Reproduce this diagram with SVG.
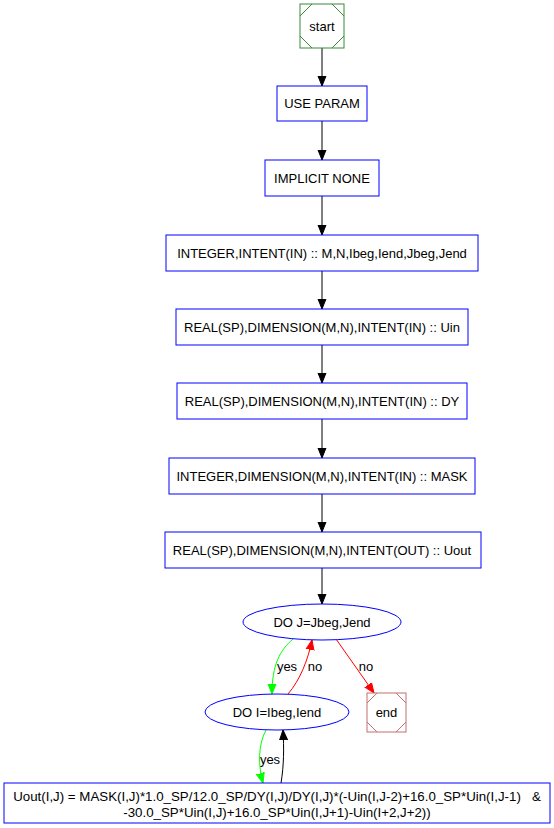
<svg xmlns="http://www.w3.org/2000/svg" width="554" height="828" viewBox="0 0 554 828">
<defs>
<marker id="ab" viewBox="0 0 10 10" refX="10" refY="5" markerWidth="10" markerHeight="10" markerUnits="userSpaceOnUse" orient="auto"><path d="M0,1 L10,5 L0,9 Z" fill="#000" stroke="#000"/></marker>
<marker id="ag" viewBox="0 0 10 10" refX="10" refY="5" markerWidth="10" markerHeight="10" markerUnits="userSpaceOnUse" orient="auto"><path d="M0,1 L10,5 L0,9 Z" fill="#0f0" stroke="#0f0"/></marker>
<marker id="ar" viewBox="0 0 10 10" refX="10" refY="5" markerWidth="10" markerHeight="10" markerUnits="userSpaceOnUse" orient="auto"><path d="M0,1 L10,5 L0,9 Z" fill="#f00" stroke="#f00"/></marker>
</defs>
<style>
text{font-family:"Liberation Sans",Arial,sans-serif;font-size:13px;text-anchor:middle;fill:#000}
.box{fill:#fff;stroke:#00f;stroke-width:1}
.e{fill:none;stroke-width:1}
</style>
<rect width="554" height="828" fill="#fff"/>
<g id="edges">
<path class="e" stroke="#000" d="M322,48 L322,86" marker-end="url(#ab)"/>
<path class="e" stroke="#000" d="M322,121 L322,160" marker-end="url(#ab)"/>
<path class="e" stroke="#000" d="M322,196 L322,235" marker-end="url(#ab)"/>
<path class="e" stroke="#000" d="M322,271 L322,309" marker-end="url(#ab)"/>
<path class="e" stroke="#000" d="M322,345 L322,383" marker-end="url(#ab)"/>
<path class="e" stroke="#000" d="M322,419 L322,458" marker-end="url(#ab)"/>
<path class="e" stroke="#000" d="M322,494 L322,532" marker-end="url(#ab)"/>
<path class="e" stroke="#000" d="M322,568 L322,604" marker-end="url(#ab)"/>
<path class="e" stroke="#0f0" d="M293,639 C280,650 272,665 272,694" marker-end="url(#ag)"/>
<path class="e" stroke="#f00" d="M288,694 C300,680 308,660 312,640" marker-end="url(#ar)"/>
<text x="287" y="671">yes</text>
<text x="315" y="671">no</text>
<path class="e" stroke="#f00" d="M336,639 L374,693" marker-end="url(#ar)"/>
<text x="366" y="671">no</text>
<path class="e" stroke="#0f0" d="M266,730 C258,745 258,765 263,783" marker-end="url(#ag)"/>
<text x="270" y="764">yes</text>
<path class="e" stroke="#000" d="M281,783 C284,765 284,748 283,730" marker-end="url(#ab)"/>
</g>
<g id="start">
<rect x="300" y="4" width="44" height="44" fill="#fff" stroke="#3a8a3a"/>
<path d="M300,16 L312,4 M332,4 L344,16 M344,36 L332,48 M312,48 L300,36" stroke="#3a8a3a" fill="none"/>
<text x="322" y="31">start</text>
</g>
<g id="use"><rect class="box" x="277" y="86" width="90" height="35"/><text x="322" y="108">USE PARAM</text></g>
<g id="implicit"><rect class="box" x="265" y="160" width="114" height="36"/><text x="322" y="183">IMPLICIT NONE</text></g>
<g id="decl1"><rect class="box" x="166" y="235" width="312" height="36"/><text x="322" y="258">INTEGER,INTENT(IN) :: M,N,Ibeg,Iend,Jbeg,Jend</text></g>
<g id="decl2"><rect class="box" x="176" y="309" width="292" height="36"/><text x="322" y="332">REAL(SP),DIMENSION(M,N),INTENT(IN) :: Uin</text></g>
<g id="decl3"><rect class="box" x="177" y="383" width="290" height="36"/><text x="322" y="406">REAL(SP),DIMENSION(M,N),INTENT(IN) :: DY</text></g>
<g id="decl4"><rect class="box" x="169" y="458" width="306" height="36"/><text x="322" y="481">INTEGER,DIMENSION(M,N),INTENT(IN) :: MASK</text></g>
<g id="decl5"><rect class="box" x="165" y="532" width="316" height="36"/><text x="322" y="555">REAL(SP),DIMENSION(M,N),INTENT(OUT) :: Uout</text></g>
<g id="doj"><ellipse class="box" cx="322" cy="622" rx="79" ry="18"/><text x="322" y="627">DO J=Jbeg,Jend</text></g>
<g id="doi"><ellipse class="box" cx="277" cy="712" rx="72" ry="18"/><text x="277" y="717">DO I=Ibeg,Iend</text></g>
<g id="end">
<rect x="367" y="693" width="39" height="39" fill="#fff" stroke="#c07070"/>
<path d="M367,703 L377,693 M396,693 L406,703 M406,722 L396,732 M377,732 L367,722" stroke="#c07070" fill="none"/>
<text x="386.5" y="717">end</text>
</g>
<g id="stmt"><rect class="box" x="4" y="783" width="546" height="40"/>
<text x="277" y="801" xml:space="preserve" style="font-size:13.3px">Uout(I,J) = MASK(I,J)*1.0_SP/12.0_SP/DY(I,J)/DY(I,J)*(-Uin(I,J-2)+16.0_SP*Uin(I,J-1)   &amp;</text>
<text x="277" y="817" style="font-size:13.3px">-30.0_SP*Uin(I,J)+16.0_SP*Uin(I,J+1)-Uin(I+2,J+2))</text>
</g>
</svg>
